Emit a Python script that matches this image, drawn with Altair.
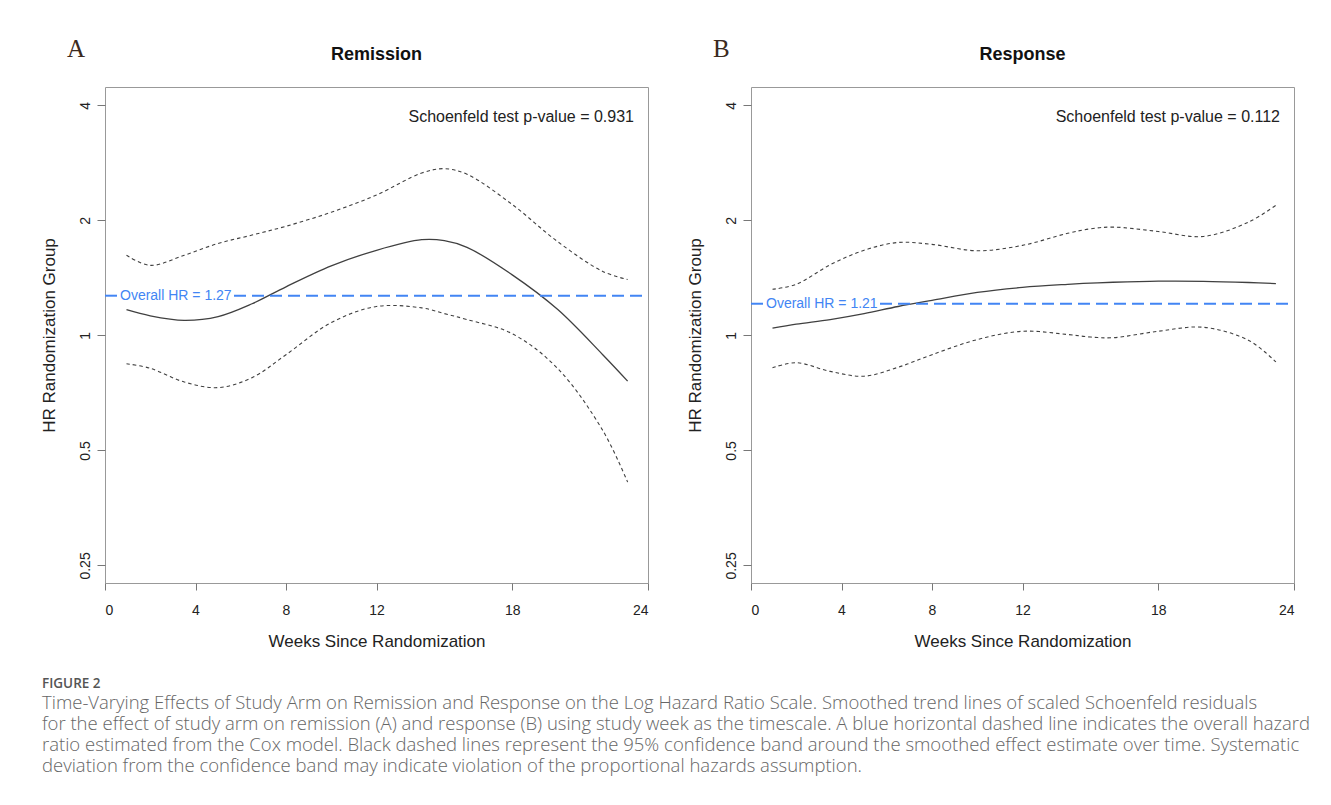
import altair as alt
import pandas as pd

# ---------------- data ----------------
X_TICKS = [0, 4, 8, 12, 18, 24]
Y_TICKS = [0.25, 0.5, 1, 2, 4]

weeks_a = [0.95, 2, 3.5, 5, 6.5, 8, 10, 12, 14, 15, 16, 18, 20, 22, 23.1]
est_a = [1.167, 1.125, 1.095, 1.12, 1.21, 1.34, 1.52, 1.67, 1.78, 1.77, 1.70, 1.44, 1.17, 0.89, 0.759]
lo_a = [0.843, 0.82, 0.755, 0.73, 0.775, 0.89, 1.08, 1.19, 1.18, 1.14, 1.10, 1.01, 0.82, 0.564, 0.413]
hi_a = [1.62, 1.525, 1.62, 1.74, 1.83, 1.93, 2.10, 2.33, 2.66, 2.73, 2.64, 2.20, 1.76, 1.47, 1.40]
hr_a = 1.27
pval_a = "0.931"

weeks_b = [0.95, 2, 3.5, 5, 6.5, 8, 10, 12, 14, 15, 16, 18, 20, 22, 23.2]
est_b = [1.045, 1.07, 1.10, 1.14, 1.19, 1.235, 1.295, 1.335, 1.36, 1.37, 1.377, 1.386, 1.385, 1.375, 1.366]
lo_b = [0.823, 0.848, 0.805, 0.782, 0.825, 0.89, 0.975, 1.025, 1.005, 0.99, 0.986, 1.025, 1.05, 0.97, 0.852]
hi_b = [1.32, 1.36, 1.53, 1.67, 1.75, 1.73, 1.665, 1.72, 1.85, 1.90, 1.92, 1.87, 1.815, 1.98, 2.19]
hr_b = 1.21
pval_b = "0.112"

caption_head = "FIGURE 2"
caption_lines = [
    "Time-Varying Effects of Study Arm on Remission and Response on the Log Hazard Ratio Scale. Smoothed trend lines of scaled Schoenfeld residuals",
    "for the effect of study arm on remission (A) and response (B) using study week as the timescale. A blue horizontal dashed line indicates the overall hazard",
    "ratio estimated from the Cox model. Black dashed lines represent the 95% confidence band around the smoothed effect estimate over time. Systematic",
    "deviation from the confidence band may indicate violation of the proportional hazards assumption.",
]

# ---------------- styling ----------------
W, H = 543, 496
FONT = "Liberation Sans"
BLUE = "#4285F4"
CURVE = "#404040"
Y_DOMAIN = [0.2249, 4.466]


def panel(title, letter, weeks, est, lo, hi, hr, pval):
    rows = []
    for s, vals in (("est", est), ("lower", lo), ("upper", hi)):
        for w, v in zip(weeks, vals):
            rows.append({"week": w, "hr": v, "series": s})
    df = pd.DataFrame(rows)

    x = alt.X(
        "week:Q",
        scale=alt.Scale(domain=[0, 24], nice=False, zero=False),
        axis=alt.Axis(
            values=X_TICKS, format="d", title="Weeks Since Randomization",
            grid=False, domain=False, tickSize=7, tickColor="#777",
            labelFont=FONT, labelFontSize=14, labelColor="#222", labelPadding=13,
            titleFont=FONT, titleFontSize=17, titleFontWeight="normal",
            titleColor="#222", titlePadding=16,
        ),
    )
    y = alt.Y(
        "hr:Q",
        scale=alt.Scale(type="log", domain=Y_DOMAIN, nice=False),
        axis=alt.Axis(
            values=Y_TICKS, format="~g", title="HR Randomization Group",
            grid=False, domain=False, tickSize=8, tickColor="#777",
            labelAngle=-90, labelAlign="center", labelBaseline="bottom",
            labelFont=FONT, labelFontSize=14, labelColor="#222", labelPadding=5,
            titleFont=FONT, titleFontSize=17, titleFontWeight="normal",
            titleColor="#222", titlePadding=20,
        ),
    )

    base = alt.Chart(df)
    est_line = base.transform_filter(alt.datum.series == "est").mark_line(
        color=CURVE, strokeWidth=1.3, interpolate="catmull-rom"
    ).encode(x=x, y=y)
    ci_lines = base.transform_filter(alt.datum.series != "est").mark_line(
        color=CURVE, strokeWidth=1.1, strokeDash=[3.5, 3], interpolate="catmull-rom"
    ).encode(x=x, y=y, detail="series:N")

    hr_df = pd.DataFrame({"hr": [hr], "label": [f"Overall HR = {hr:.2f}"]})
    hb = alt.Chart(hr_df)
    rule1 = hb.mark_rule(color=BLUE, strokeWidth=2, strokeDash=[12, 6]).encode(
        y=y, x=alt.value(0), x2=alt.value(12)
    )
    rule2 = hb.mark_rule(color=BLUE, strokeWidth=2, strokeDash=[12, 6]).encode(
        y=y, x=alt.value(129), x2=alt.value(W)
    )
    hr_text = hb.mark_text(
        align="left", baseline="middle", font=FONT, fontSize=14, color=BLUE
    ).encode(x=alt.value(15), y=y, text="label:N")

    t_df = pd.DataFrame({
        "p": [f"Schoenfeld test p-value = {pval}"],
        "letter": [letter],
        "title": [title],
    })
    tb = alt.Chart(t_df)
    p_text = tb.mark_text(
        align="right", baseline="alphabetic", font=FONT, fontSize=16, color="#222"
    ).encode(x=alt.value(W - 14), y=alt.value(35), text="p:N")
    l_text = tb.mark_text(
        align="left", baseline="alphabetic", font="Liberation Serif",
        fontSize=25, color="#3b2a20"
    ).encode(x=alt.value(-38), y=alt.value(-30), text="letter:N")
    ttl = tb.mark_text(
        align="center", baseline="alphabetic", font=FONT, fontSize=18,
        fontWeight="bold", color="#111"
    ).encode(x=alt.value(W / 2), y=alt.value(-27), text="title:N")

    return alt.layer(ci_lines, est_line, rule1, rule2, hr_text, p_text, l_text, ttl).properties(
        width=W, height=H
    )


pa = panel("Remission", "A", weeks_a, est_a, lo_a, hi_a, hr_a, pval_a)
pb = panel("Response", "B", weeks_b, est_b, lo_b, hi_b, hr_b, pval_b)

cap_df = pd.DataFrame({"head": [caption_head], "body": ["\n".join(caption_lines)]})
cap_base = alt.Chart(cap_df)
cap_head = cap_base.mark_text(
    align="left", baseline="alphabetic", font="Open Sans", fontSize=13.5,
    fontWeight=600, color="#555"
).encode(x=alt.value(-63), y=alt.value(37), text="head:N")
cap_body = cap_base.mark_text(
    align="left", baseline="alphabetic", font="Open Sans", fontSize=18.5,
    fontWeight=300, color="#666", lineBreak="\n", lineHeight=21
).encode(x=alt.value(-63), y=alt.value(58), text="body:N")
caption = alt.layer(cap_head, cap_body).properties(
    width=1150, height=125, view=alt.ViewBackground(stroke="transparent")
)

chart = alt.vconcat(
    alt.hconcat(pa, pb, spacing=35),
    caption,
    spacing=0,
).properties(
    padding={"left": 31, "top": 28, "right": 0, "bottom": 0},
    background="white",
).configure_view(stroke="#999", strokeWidth=1)

chart.save("out.html", embed_options={"renderer": "svg", "actions": False})
